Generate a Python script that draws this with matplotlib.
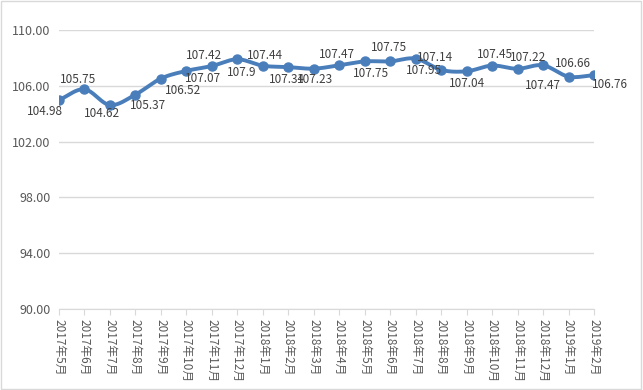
import matplotlib
matplotlib.use('Agg')
import matplotlib.pyplot as plt
from matplotlib.patches import Rectangle
import numpy as np

plt.rcParams['font.family'] = ['Noto Sans CJK SC', 'DejaVu Sans']

months = ['2017年5月', '2017年6月', '2017年7月', '2017年8月', '2017年9月', '2017年10月',
          '2017年11月', '2017年12月', '2018年1月', '2018年2月', '2018年3月', '2018年4月',
          '2018年5月', '2018年6月', '2018年7月', '2018年8月', '2018年9月', '2018年10月',
          '2018年11月', '2018年12月', '2019年1月', '2019年2月']
values = [104.98, 105.75, 104.62, 105.37, 106.52, 107.07, 107.42, 107.9, 107.44, 107.34,
          107.23, 107.47, 107.75, 107.75, 107.95, 107.14, 107.04, 107.45, 107.22, 107.47,
          106.66, 106.76]

# label centre relative to its point, in pixels (right, down)
label_shift = [(-14, 11), (-6, -10), (-8, 8), (13, 11), (22, 12), (17, 8), (-8, -10),
               (4, 13), (2, -10), (-1, 12), (1, 11), (-2, -11), (6, 12), (-1, -14),
               (8, 12), (-6, -12), (0, 12), (3, -11), (10, -11), (0, 20), (4, -13),
               (16, 9)]

blue = '#4a7ebb'
grey_text = '#595959'

fig = plt.figure(figsize=(6.43, 3.90), dpi=100)
ax = fig.add_axes([59/643, 1 - 309/390, (594 - 59)/643, (309 - 30)/390])


def smooth(xs, ys, n=20):
    # catmull-rom style curve through the points, like excel's smoothed line
    px = np.concatenate([[2*xs[0] - xs[1]], xs, [2*xs[-1] - xs[-2]]])
    py = np.concatenate([[2*ys[0] - ys[1]], ys, [2*ys[-1] - ys[-2]]])
    outx, outy = [], []
    t = np.linspace(0, 1, n, endpoint=False)
    for i in range(1, len(px) - 2):
        for arr, out in ((px, outx), (py, outy)):
            p0, p1, p2, p3 = arr[i-1], arr[i], arr[i+1], arr[i+2]
            out.extend(0.5*((2*p1) + (-p0 + p2)*t + (2*p0 - 5*p1 + 4*p2 - p3)*t**2
                            + (-p0 + 3*p1 - 3*p2 + p3)*t**3))
    outx.append(xs[-1])
    outy.append(ys[-1])
    return np.array(outx), np.array(outy)


x = np.arange(len(values))
y = np.array(values)
sx, sy = smooth(x.astype(float), y)
ax.plot(sx, sy, color=blue, lw=2.8, solid_capstyle='round', zorder=3)
ax.plot(x, y, 'o', color=blue, ms=6.5, zorder=4)

for xi, yi, (dx, dy) in zip(x, y, label_shift):
    ax.annotate(f'{yi:g}', (xi, yi), xytext=(dx*0.72, -dy*0.72), textcoords='offset points',
                ha='center', va='center', fontsize=8.5, color='#404040', zorder=5)

ax.set_xlim(0, len(values) - 1)
ax.set_ylim(90, 110)
ax.set_yticks(np.arange(90, 111, 4))
ax.set_yticklabels([f'{v:.2f}' for v in np.arange(90, 111, 4)], fontsize=9, color=grey_text)
ax.set_xticks(x)
ax.set_xticklabels(months, rotation=270, fontsize=8.5, color=grey_text, va='top', ha='center')
ax.grid(axis='y', color='#d9d9d9', lw=1)
ax.set_axisbelow(True)
for s in ['top', 'right', 'left']:
    ax.spines[s].set_visible(False)
ax.spines['bottom'].set_color('#d9d9d9')
ax.tick_params(axis='y', length=0, pad=6)
ax.tick_params(axis='x', length=4, color='#d9d9d9', pad=3)

fig.patches.append(Rectangle((0.002, 0.003), 0.995, 0.994, transform=fig.transFigure,
                             fill=False, edgecolor='#d9d9d9', lw=1))

fig.savefig('out.png', dpi=100)
